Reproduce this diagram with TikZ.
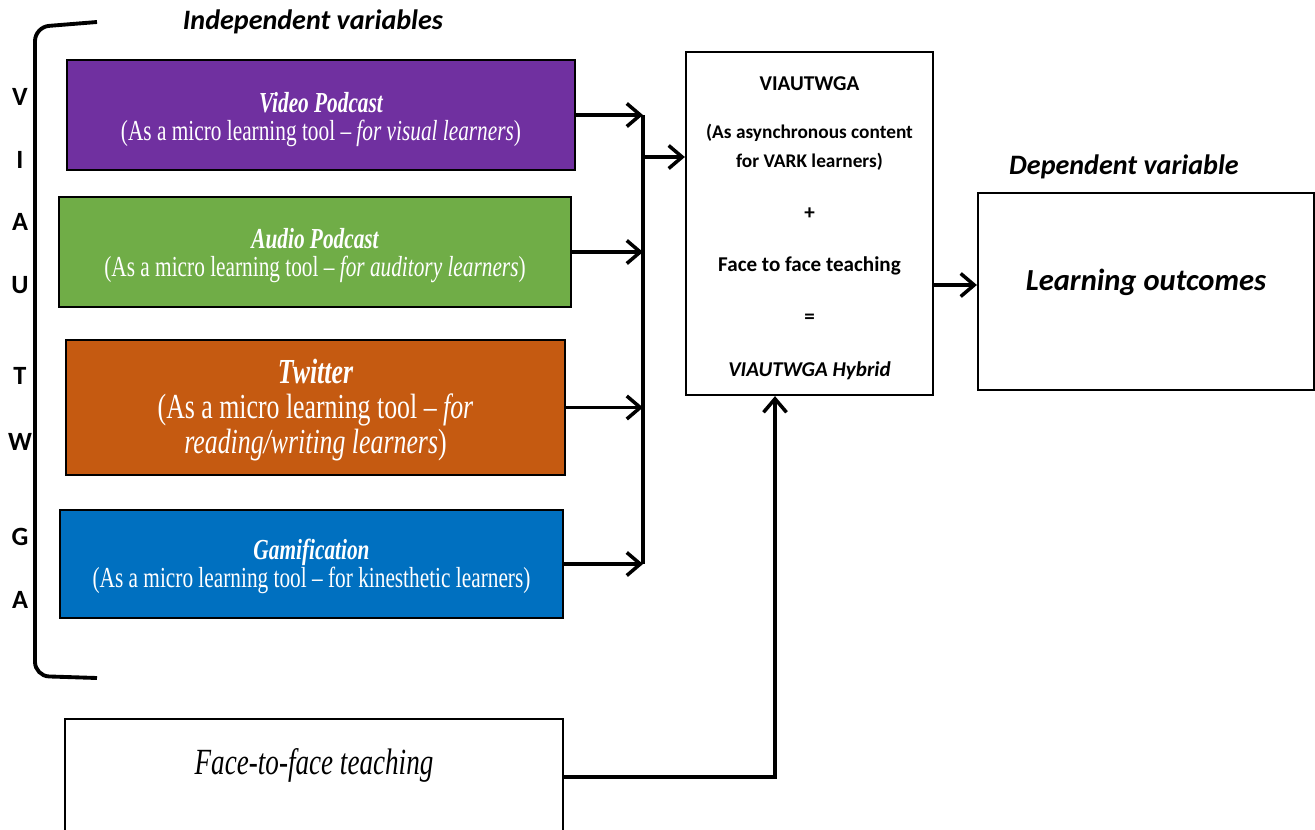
\documentclass[tikz,border=0pt]{standalone}
\usepackage{fontspec}
\setmainfont{Liberation Serif}
\newfontfamily\narrowrm[FakeStretch=0.735]{Liberation Serif}
\newfontfamily\calib{Carlito}
\usetikzlibrary{arrows.meta,positioning}
\definecolor{vpurple}{HTML}{7030A0}
\definecolor{agreen}{HTML}{70AD47}
\definecolor{torange}{HTML}{C55A11}
\definecolor{gblue}{HTML}{0070C0}
\newcommand\topgap[1]{\rule{0pt}{#1}}

\begin{document}
\begin{tikzpicture}[x=0.02cm,y=-0.02cm,
	tool/.style={draw,line width=1.3pt,text=white,align=center,inner sep=0pt,
		font=\narrowrm\fontsize{16.5}{16.2}\selectfont},
	plainbox/.style={draw,line width=1.3pt,fill=white,align=center,inner sep=0pt},
	flow/.style={line width=2pt,-{Straight Barb[length=0.27cm,width=0.46cm]}},
	busline/.style={line width=2pt},
	heading/.style={font=\calib\bfseries\itshape\fontsize{16}{18}\selectfont},
	letter/.style={font=\calib\bfseries\fontsize{15}{15}\selectfont}]
	\useasboundingbox (0,0) rectangle (1315,829);
	% bracket and letters
	\draw[line width=2.2pt,rounded corners=8pt] (97,22) -- (35,27) -- (35,676) -- (97,678);
	\foreach \c/\y [count=\i] in {V/97,I/160,A/222,U/285,T/376,W/442,G/537,A/600}
		\node[letter] (let\i) at (20,\y) {\c};
	\node[heading] (indep) at (313,22) {Independent variables};
	\node[heading] (dep) at (1124,167) {Dependent variable};
	% tools
	\node[tool,fill=vpurple,minimum width=10.16cm,minimum height=2.2cm] (video) at (321,115)
		{\topgap{0.58cm}\bfseries\itshape Video Podcast\\(As a micro learning tool – \textit{for visual learners})};
	\node[tool,fill=agreen,minimum width=10.24cm,minimum height=2.2cm] (audio) at (315,252)
		{\topgap{0.54cm}\bfseries\itshape Audio Podcast\\(As a micro learning tool – \textit{for auditory learners})};
	\node[tool,fill=torange,minimum width=9.98cm,minimum height=2.7cm,
		font=\narrowrm\fontsize{20}{20}\selectfont] (twit) at (315.5,407.5)
		{\topgap{0.6cm}\bfseries\itshape Twitter\\(As a micro learning tool – \textit{for}\\\textit{reading/writing learners})};
	\node[tool,fill=gblue,minimum width=10.06cm,minimum height=2.16cm] (gami) at (311.5,564)
		{\topgap{0.5cm}\bfseries\itshape Gamification\\(As a micro learning tool – for kinesthetic learners)};
	% hybrid and outcome
	\node[plainbox,minimum width=4.94cm,minimum height=6.86cm,
		font=\calib\bfseries\fontsize{12}{16.4}\selectfont] (hub) at (809.5,223.5)
		{\topgap{0.45cm}VIAUTWGA\\[0.4cm]{\fontsize{11}{16.4}\selectfont(As asynchronous content}\\
		{\fontsize{11}{16.4}\selectfont for VARK learners)}\\[0.46cm]+\\[0.46cm]
		Face to face teaching\\[0.46cm]=\\[0.48cm]\textit{VIAUTWGA Hybrid}};
	\node[plainbox,minimum width=6.72cm,minimum height=3.94cm,
		font=\calib\bfseries\itshape\fontsize{17.4}{20}\selectfont] (outc) at (1146,291.5)
		{\raisebox{0.19cm}[\height][\depth]{Learning outcomes}};
	% face to face
	\node[plainbox,anchor=north,minimum width=9.96cm,minimum height=3cm] (ftf) at (314,718) {};
	\node[font=\narrowrm\itshape\fontsize{21}{22}\selectfont] (ftftext) at (314,765) {Face-to-face teaching};
	% connectors
	\coordinate (bus) at (643,0);
	\coordinate (join) at (643,157);
	\coordinate (out) at (933,285);
	\coordinate (ftfline) at (0,777);
	\coordinate (rise) at (775,0);
	\draw[busline] (video.east -| bus) -- (gami.east -| bus);
	\foreach \n in {video,audio,twit,gami}
		\draw[flow] (\n.east) -- (\n.east -| bus);
	\draw[flow] (join) -- (join -| hub.west);
	\draw[flow] (hub.east |- out) -- (outc.west |- out);
	\draw[flow] (ftf.east |- ftfline) -| (rise |- hub.south);
\end{tikzpicture}
\end{document}
